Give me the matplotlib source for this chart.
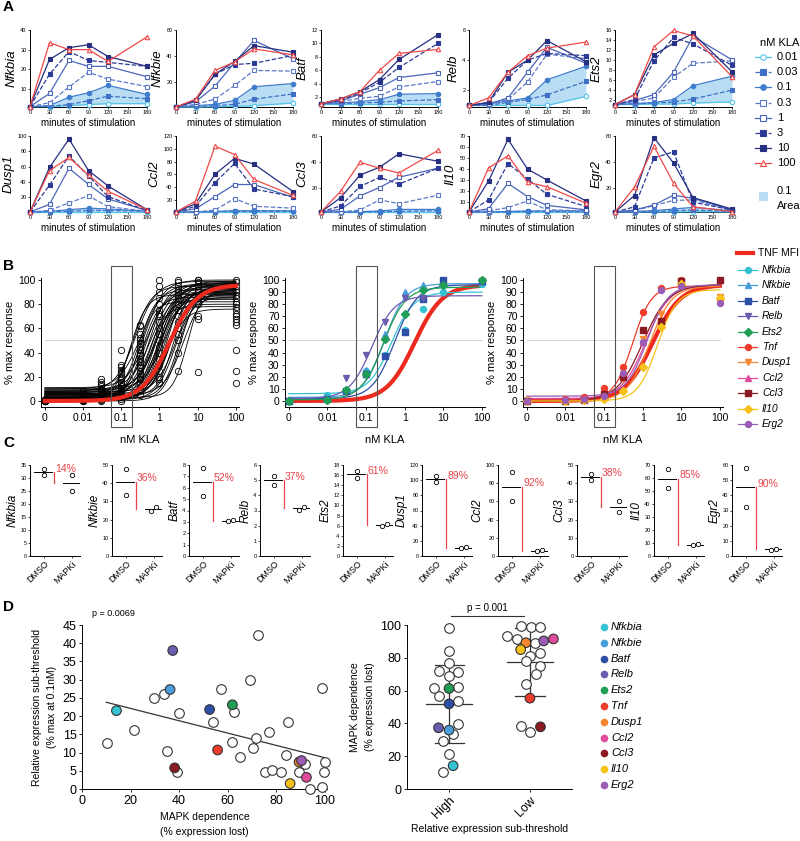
"""Multi-panel KLA dose / MAPK dependence figure (A-D)."""

import numpy as np
import matplotlib
matplotlib.use("Agg")
import matplotlib.pyplot as plt
from matplotlib.patches import Rectangle
from matplotlib.lines import Line2D
from matplotlib.ticker import NullLocator

plt.rcParams["font.family"] = ["Liberation Sans", "DejaVu Sans"]
plt.rcParams["axes.linewidth"] = 0.7

W, H = 800, 841

# ---------------- panel A: time courses ----------------
times = [0, 30, 60, 90, 120, 180]
doses = ["0.01", "0.03", "0.1", "0.3", "1", "3", "10", "100"]
genes_a = ["Nfkbia", "Nfkbie", "Batf", "Relb", "Ets2",
           "Dusp1", "Ccl2", "Ccl3", "Il10", "Egr2"]

nfkbia = [[1, 1, 1.5, 2, 2.5, 2.5], [1, 1.2, 2, 4, 6.3, 5], [1, 1.5, 5.8, 8, 11.8, 7.2],
          [1, 3, 11, 18.5, 15, 11.2], [1, 7.7, 24.5, 21.5, 21.5, 16.2],
          [1, 17.5, 29, 24.5, 23.5, 21.5], [1, 25, 31, 32.5, 26.5, 21.5],
          [1, 33.5, 30, 30, 24, 36.5]]
nfkbie = [[1, 1, 1.2, 1.5, 2, 4], [1, 1.5, 2, 3, 7, 11], [1, 2, 3, 6, 16.5, 19],
          [1, 3, 7, 17.5, 29, 28.5], [1, 5, 17, 35, 52, 38],
          [1, 6, 26, 33.5, 34.5, 40.5], [1, 6, 26, 36, 48, 43],
          [1, 7, 29, 35.5, 45.5, 41]]
batf = [[1, 1, 1, 1, 1, 1], [1, 1, 1.1, 1.2, 1.4, 1.6], [1, 1.1, 1.3, 1.6, 2.4, 2.5],
        [1, 1.3, 1.8, 2.1, 3.5, 4.3], [1, 1.4, 2.4, 3.4, 4.9, 5.6],
        [1, 1.5, 2.6, 4.2, 6.4, 10], [1, 1.7, 2.8, 4.6, 7.6, 11.3],
        [1, 1.7, 2.8, 6.0, 8.5, 9.1]]
relb = [[1, 1, 1, 1, 1, 1.6], [1, 1, 1.2, 1.4, 1.7, 2.6], [1, 1.1, 1.3, 1.5, 2.7, 3.6],
        [1, 1.1, 1.4, 2.55, 4.4, 4.1], [1, 1.1, 1.5, 3.2, 4.85, 3.8],
        [1, 1.2, 2.8, 4.0, 4.45, 4.3], [1, 1.2, 3.2, 4.0, 5.3, 3.9],
        [1, 1.5, 3.2, 4.3, 4.8, 5.2]]
ets2 = [[1, 1, 1.1, 1.1, 1.3, 1.5], [1, 1.1, 1.3, 1.5, 2.1, 3.9], [1, 1.2, 1.4, 2, 4.8, 6.7],
        [1, 1.6, 2.3, 6.5, 9.3, 9.8], [1, 1.8, 3, 7.5, 14.7, 10],
        [1, 2, 9.8, 14.5, 13.2, 8.9], [1, 3, 11, 13.3, 15.3, 7.6],
        [1, 3, 12.6, 15.9, 14.8, 6.6]]
dusp1 = [[1, 1, 1, 1, 1, 1], [1, 1.5, 2, 3, 3, 2], [1, 2, 4, 6, 5, 2],
         [1, 3, 13, 22, 8, 2], [1, 11, 58, 37, 18, 3],
         [1, 36, 74, 48, 21, 3], [1, 59, 96, 55, 35, 4],
         [1, 55, 72, 49, 28, 4]]
ccl2 = [[1, 1, 1, 1, 1, 1], [1, 1, 1.5, 2, 2, 2], [1, 1, 2, 3, 3, 3],
        [1, 1, 4, 22, 10, 7], [1, 6, 25, 44, 44, 24],
        [1, 10, 47, 77, 37, 25], [1, 14, 60, 85, 76, 33],
        [1, 18, 104, 91, 52, 27]]
ccl3 = [[1, 1, 1, 1, 1, 1], [1, 1, 1, 1.2, 1.5, 2], [1, 1, 1.3, 1.8, 3, 3],
        [1, 1, 2.6, 10.4, 7.5, 14], [1, 3, 13.5, 20, 28, 35],
        [1, 5.7, 20.8, 27.9, 22.7, 35], [1, 12, 29.7, 35.7, 46.2, 40.4],
        [1, 17, 39.6, 35, 31.3, 48.8]]
il10 = [[1, 1, 1, 1, 1, 1], [1, 1, 1, 1.5, 1.5, 1], [1, 1, 1.5, 2, 2, 2],
        [1, 2, 5, 11, 3, 2], [1, 4, 27, 15, 7, 3],
        [1, 12, 45, 31, 17, 6], [1, 29, 67, 40, 30, 11],
        [1, 41, 52, 28, 24, 9]]
egr2 = [[1, 1, 1, 1, 1.2, 1], [1, 1, 1.5, 2, 2.5, 1.5], [1, 1.5, 2, 3.3, 4.6, 2],
        [1, 2, 6, 10, 10.4, 2.3], [1, 2.5, 6.5, 14, 11.7, 2.6],
        [1, 5, 43, 47.7, 8.6, 2.6], [1, 13.8, 58.7, 39, 12.2, 3.3],
        [1, 20.3, 52, 23.4, 5, 1.3]]
a_data = [nfkbia, nfkbie, batf, relb, ets2, dusp1, ccl2, ccl3, il10, egr2]
a_ytop = [40, 60, 12, 6, 16, 100, 120, 60, 70, 60]
a_ystep = [10, 20, 2, 2, 2, 20, 20, 20, 10, 20]
a_ybot = [0.8, 1, 0.5, 0.9, 0.5, 1, 1, 1, 1, 1]

# ---------------- panel B: dose responses ----------------
b_conc = [0, 0.01, 0.03, 0.1, 0.3, 1, 3, 10, 100]

b1_pts = [
    [0, 0, 0, 0, 0, 1, 2],
    [0, 0, 1, 1, 2, 2, 3, 3, 4, 5, 6, 8],
    [0, 1, 2, 3, 3, 4, 5, 5, 6, 7, 8, 9, 10, 12, 14, 16, 18],
    [0, 2, 3, 4, 5, 6, 7, 8, 10, 11, 12, 14, 16, 18, 20, 22, 24, 26, 28, 30, 42],
    [5, 10, 14, 18, 20, 22, 25, 28, 30, 32, 35, 38, 40, 42, 45, 48, 50, 52, 55, 62, 63],
    [15, 18, 20, 25, 30, 35, 40, 45, 50, 55, 60, 65, 70, 72, 75, 80, 85, 90, 95, 100],
    [25, 40, 50, 55, 60, 65, 70, 75, 80, 85, 88, 90, 92, 95, 98, 100],
    [24, 68, 70, 80, 85, 88, 90, 92, 95, 98, 100, 100],
    [15, 25, 42, 63, 65, 68, 70, 72, 75, 78, 80, 82, 85, 88, 90, 92, 95, 98, 100],
]
b1_ec50 = [0.17, 0.2, 0.24, 0.28, 0.3, 0.33, 0.36, 0.4, 0.44, 0.48, 0.52, 0.56, 0.6,
           0.65, 0.7, 0.75, 0.8, 0.85, 0.9, 0.95, 1.0, 1.05, 1.1, 1.2, 1.3, 1.4, 1.5,
           1.6, 1.75, 1.9, 2.1, 2.3, 2.5, 2.8, 3.1, 3.6, 4.2, 5.5]
b1_bottom = [0, 3, 8, 1, 5, 10, 2, 7, 4, 11, 0, 6, 3, 9, 1, 5, 8, 2, 10, 4, 0, 7, 3,
             6, 1, 9, 2, 5, 0, 8, 3, 4, 1, 6, 2, 0, 5, 3]
b1_top = [88, 95, 99, 82, 92, 97, 86, 100, 90, 94, 78, 96, 89, 98, 84, 93, 91, 87, 95,
          80, 97, 92, 85, 99, 90, 94, 76, 96, 88, 93, 98, 91, 86, 95, 89, 97, 92, 96]
b1_hill = [2.0, 1.8, 1.6, 2.2, 1.9, 1.5, 2.0, 1.7, 1.8, 1.6, 2.1, 1.9, 1.7, 1.5, 2.0,
           1.8, 1.6, 1.9, 1.7, 2.2, 1.8, 1.6, 2.0, 1.7, 1.9, 1.5, 1.8, 2.0, 1.6, 1.9,
           1.7, 2.1, 1.8, 1.6, 2.0, 1.9, 1.7, 2.2]
tnf_mfi_fit = [0, 96, 1.8, 1.2]  # bottom, top, ec50, hill

b2_genes = ["Nfkbia", "Nfkbie", "Batf", "Relb", "Ets2"]
b2_pts = [[0, 5, 9, 25, 38, 59, 76, 90, 97],
          [0, 3, 9, 26, 55, 90, 96, 97, 99],
          [0, 2, 8, 22, 37, 57, 84, 100, 99],
          [0, 1, 19, 38, 65, 85, 85, 95, 98],
          [0, 1, 9, 22, 51, 72, 92, 96, 100]]
b2_fit = [[6, 90, 0.45, 1.5], [3, 97, 0.3, 1.6], [2, 96, 0.55, 1.5],
          [2, 87, 0.14, 1.5], [1, 94, 0.28, 1.5]]

b3_genes = ["Tnf", "Dusp1", "Ccl2", "Ccl3", "Il10", "Erg2"]
b3_pts = [[1, 2, 3, 10.5, 28, 73.5, 93, 100, 84],
          [0, 0, 1, 3, 18, 51, 72, 98, 86],
          [0, 1, 2, 5, 23, 49, 66, 96, 100],
          [0, 0, 1, 6, 20, 59, 66, 99, 100],
          [0, 0, 1, 2, 8, 28, 61, 97, 85],
          [0, 1, 2, 4, 23, 49, 92, 95, 81]]
b3_fit = [[1, 95, 0.55, 1.8], [0, 95, 1.5, 1.5], [2, 96, 1.2, 1.4],
          [0, 96, 1.0, 1.3], [0, 92, 2.4, 1.7], [4, 96, 1.3, 1.6]]

# ---------------- panel C: DMSO vs MAPKi ----------------
c_genes = ["Nfkbia", "Nfkbie", "Batf", "Relb", "Ets2",
           "Dusp1", "Ccl2", "Ccl3", "Il10", "Egr2"]
c_dmso = [[33.5, 31], [48, 33.5], [7.7, 5.3], [5.3, 4.7], [16.8, 15.5],
          [105, 97], [92, 60], [42, 45], [67, 52], [58, 32.5]]
c_mapki = [[31, 25], [25, 27], [3.05, 3.15], [3.05, 3.25], [6.0, 6.4],
           [10.5, 11.5], [5.5, 6.5], [30, 24], [8.5, 9], [4, 4.7]]
c_pct = ["14%", "36%", "52%", "37%", "61%", "89%", "92%", "38%", "85%", "90%"]
c_ytop = [35, 50, 8, 6, 18, 120, 100, 50, 70, 60]
c_ystep = [5, 10, 1, 1, 2, 20, 20, 10, 10, 10]

# ---------------- panel D ----------------
d_open_x = [10.3, 21.5, 29.5, 34, 35, 40.1, 39, 54, 57.4, 61.8, 62.7, 65, 69.2, 70.3,
            71.9, 72.6, 75.6, 77.1, 78.5, 81.9, 84, 84.9, 89.3, 91.8, 93.8, 98.8,
            99, 99.6, 100]
d_open_y = [12.7, 16.2, 24.9, 26, 10.3, 20.9, 4.8, 18.3, 27.5, 13.0, 21.2, 8.8, 29.8,
            11.2, 13.9, 42.2, 4.8, 15.7, 5.3, 4.7, 9.4, 18.5, 4.8, 6.8, 0, 27.8,
            0.5, 4.7, 7.4]
d_genes = ["Nfkbia", "Nfkbie", "Batf", "Relb", "Ets2", "Tnf", "Dusp1", "Ccl2",
           "Ccl3", "Il10", "Erg2"]
d_gene_x = [14.2, 36.3, 52.6, 37.4, 62, 55.9, 89.5, 92.5, 38.2, 85.8, 90.5]
d_gene_y = [21.5, 27.3, 21.8, 38, 23.1, 10.7, 7.4, 3.2, 5.8, 1.5, 7.8]
d_reg_x = [10, 100]
d_reg_y = [23.8, 8.6]

high_open = [98.4, 84.4, 76.7, 72.2, 71.4, 68.6, 61.5, 62.3, 56.8, 53.8, 39.8,
             33.7, 29.4, 21.3, 10.1]
high_open_dx = [0, 0, 0, -0.12, 0.115, 0, -0.19, 0.115, -0.12, 0.115, 0.115,
                0.05, -0.07, 0, -0.07]
low_open = [99.6, 98.6, 99, 93.1, 91.3, 88.8, 83.2, 81.3, 77.9, 75, 70, 64.3,
            38.7, 34.7]
low_open_dx = [-0.115, 0.01, 0.13, -0.28, -0.16, 0.06, 0.13, 0, -0.05, 0.13,
               0.07, -0.05, -0.115, 0]
high_genes = ["Ets2", "Batf", "Relb", "Nfkbie", "Nfkbia"]
high_gene_y = [61.3, 51.9, 37.3, 35.9, 14.2]
high_gene_dx = [0, 0, -0.13, 0, 0.05]
low_genes = ["Dusp1", "Erg2", "Ccl2", "Il10", "Tnf", "Ccl3"]
low_gene_y = [89.2, 90.3, 91.5, 85, 55.4, 37.9]
low_gene_dx = [-0.05, 0.17, 0.29, -0.115, 0, 0.13]

gene_colors = {"Nfkbia": "#35c3d3", "Nfkbie": "#4a9ddb", "Batf": "#2e4fa8",
               "Relb": "#6c5cb0", "Ets2": "#1f9e55", "Tnf": "#ee3b2c",
               "Dusp1": "#f5862f", "Ccl2": "#e24a9c", "Ccl3": "#8c1a22",
               "Il10": "#f6c21a", "Erg2": "#9a5cb4"}
gene_markers = {"Nfkbia": "o", "Nfkbie": "^", "Batf": "s", "Relb": "v", "Ets2": "D",
                "Tnf": "o", "Dusp1": "v", "Ccl2": "^", "Ccl3": "s", "Il10": "D",
                "Erg2": "o"}

dose_styles = [("#52c3ea", "o", "-", False), ("#3f70c6", "s", "--", True),
               ("#3f7ccd", "o", "-", True), ("#5b79c8", "s", "--", False),
               ("#4b66ba", "s", "-", False), ("#2c3b98", "s", "--", True),
               ("#262f80", "s", "-", True), ("#f04848", "^", "-", False)]
RED = "#e8434a"


def px_axes(fig, left, top, right, bottom):
    return fig.add_axes([left / W, 1 - bottom / H, (right - left) / W, (bottom - top) / H])


def clean(ax):
    ax.spines["top"].set_visible(False)
    ax.spines["right"].set_visible(False)


def hill(x, bottom, top, ec50, h):
    return bottom + (top - bottom) / (1 + (ec50 / x) ** h)


fig = plt.figure(figsize=(W / 100, H / 100), dpi=100)
ov = fig.add_axes([0, 0, 1, 1], zorder=10)
ov.set_xlim(0, W)
ov.set_ylim(H, 0)
ov.axis("off")
ov.patch.set_alpha(0)

for lab, y in [("A", 7), ("B", 266), ("C", 443), ("D", 607)]:
    ov.text(3, y, lab, fontsize=11, fontweight="bold", va="center", ha="left")

# ---- A ----
a_lefts = [30, 176, 321, 469, 615]
a_rows = [(30, 107), (136, 212)]
for gi, gene in enumerate(genes_a):
    row, col = divmod(gi, 5)
    top, bot = a_rows[row]
    ax = px_axes(fig, a_lefts[col], top, a_lefts[col] + 117, bot)
    clean(ax)
    series = a_data[gi]
    ax.fill_between(times, series[0], series[2], color="#b9def4", lw=0, zorder=1)
    for di in range(len(doses)):
        color, mk, ls, filled = dose_styles[di]
        ax.plot(times, series[di], color=color, ls=ls, lw=0.9, marker=mk, ms=3.2,
                mfc=color if filled else "white", mec=color, mew=0.8,
                clip_on=False, zorder=3 + di * 0.1)
    ax.set_xlim(0, 180)
    ax.set_ylim(a_ybot[gi], a_ytop[gi])
    ax.set_xticks([0, 30, 60, 90, 120, 150, 180])
    ax.set_yticks(np.arange(a_ystep[gi], a_ytop[gi] + 0.1, a_ystep[gi]))
    ax.tick_params(labelsize=4, length=1.5, width=0.5, pad=1)
    ax.set_ylabel(gene, fontsize=9.5, style="italic", labelpad=2)
    ax.set_xlabel("minutes of stimulation", fontsize=7, labelpad=2)

ov.text(760, 43, "nM KLA", fontsize=8, va="center")
for di, d in enumerate(doses):
    color, mk, ls, filled = dose_styles[di]
    y = 57 + 15.2 * di
    ov.add_line(Line2D([755, 771], [y, y], color=color, ls=ls, lw=0.9, marker=None))
    ov.plot([763], [y], marker=mk, ms=4, color=color, mfc=color if filled else "white",
            mew=0.8)
    ov.text(777, y, d, fontsize=8, va="center")
ov.add_patch(Rectangle((759, 192), 9, 9, color="#b9def4", lw=0))
ov.text(777, 191, "0.1", fontsize=8, va="center")
ov.text(777, 206, "Area", fontsize=8, va="center")

# ---- B ----
b_xpos = [0.001 if c == 0 else c for c in b_conc]
xs = np.logspace(-3, 2, 300)
b_frames = [(41, 239), (285, 485), (523, 723)]
b_axes = []
for k, (l, r) in enumerate(b_frames):
    ax = px_axes(fig, l, 277.6, r, 407)
    clean(ax)
    ax.set_xscale("log")
    ax.set_xlim(10 ** -3.1, 10 ** 2.08)
    ax.set_ylim(-5, 102)
    ax.set_xticks([1e-3, 1e-2, 1e-1, 1, 10, 100])
    ax.set_xticklabels(["0", "0.01", "0.1", "1", "10", "100"])
    ax.xaxis.set_minor_locator(NullLocator())
    ax.set_yticks(np.arange(0, 101, 20 if k == 0 else 10))
    ax.tick_params(labelsize=7.5, length=2.5, width=0.6, pad=1.5)
    ax.plot([1e-3, 100], [50, 50], color="#cfcfcf", lw=0.6, zorder=0)
    ax.add_patch(Rectangle((10 ** -1.27, -21.5), 10 ** -0.72 - 10 ** -1.27, 133.5,
                           fill=False, ec="#555555", lw=0.8, clip_on=False, zorder=6))
    ax.set_ylabel("% max response", fontsize=8, labelpad=2)
    ax.set_xlabel("nM KLA", fontsize=8, labelpad=9)
    b_axes.append(ax)

ax = b_axes[0]
for i in range(len(b1_ec50)):
    ax.plot(xs, hill(xs, b1_bottom[i], b1_top[i], b1_ec50[i], b1_hill[i]),
            color="black", lw=0.6, zorder=2)
for ci, vals in enumerate(b1_pts):
    ax.plot([b_xpos[ci]] * len(vals), vals, ls="none", marker="o", ms=4.6,
            mfc="none", mec="black", mew=0.6, clip_on=False, zorder=3)
ax.plot(xs, hill(xs, *tnf_mfi_fit), color="#ee2a1e", lw=3, zorder=4)

for ax, genes, pts, fits in [(b_axes[1], b2_genes, b2_pts, b2_fit),
                             (b_axes[2], b3_genes, b3_pts, b3_fit)]:
    ax.plot(xs, hill(xs, *tnf_mfi_fit), color="#ee2a1e", lw=3, zorder=2)
    for g, p, f in zip(genes, pts, fits):
        c = gene_colors[g]
        ax.plot(xs, hill(xs, *f), color=c, lw=0.9, zorder=3)
        ax.plot(b_xpos, p, ls="none", marker=gene_markers[g], ms=4.3, color=c,
                clip_on=False, zorder=4)

ov.add_line(Line2D([737, 753], [253, 253], color="#ee2a1e", lw=3))
ov.text(758, 253, "TNF MFI", fontsize=7.5, va="center")
for i, g in enumerate(b2_genes + b3_genes):
    y = 270 + 15.4 * i
    c = gene_colors[g]
    ov.add_line(Line2D([738, 757], [y, y], color=c, lw=0.9))
    ov.plot([747.5], [y], marker=gene_markers[g], ms=4.3, color=c)
    ov.text(762, y, g, fontsize=7.5, style="italic", va="center")

# ---- C ----
c_lefts = [30, 112, 189, 260, 343, 422, 498, 577, 654, 732]
for i, g in enumerate(c_genes):
    ax = px_axes(fig, c_lefts[i], 465, c_lefts[i] + 50, 556)
    clean(ax)
    top = c_ytop[i]
    for xc, vals in [(0, c_dmso[i]), (1, c_mapki[i])]:
        close = abs(vals[0] - vals[1]) < 0.06 * top
        dx = [-0.1, 0.1] if close else [0, 0]
        ax.scatter([xc + dx[0], xc + dx[1]], vals, s=10, facecolors="white",
                   edgecolors="black", linewidths=0.6, zorder=3, clip_on=False)
    m0 = np.mean(c_dmso[i])
    m1 = np.mean(c_mapki[i])
    ax.plot([-0.35, 0.3], [m0, m0], color="black", lw=0.7)
    ax.plot([0.68, 1.3], [m1, m1], color="black", lw=0.7)
    ax.plot([0.35, 0.35], [m0, m1], color=RED, lw=0.9)
    ax.text(0.4, m0 + 0.04 * top, c_pct[i], color=RED, fontsize=7.5, va="center")
    ax.set_xlim(-0.5, 1.3)
    ax.set_ylim(0, top)
    ax.set_yticks(np.arange(0, top + 0.1, c_ystep[i]))
    ax.set_xticks([0, 1])
    ax.set_xticklabels(["DMSO", "MAPKi"], rotation=45, ha="right",
                       rotation_mode="anchor", fontsize=6.5)
    ax.tick_params(axis="y", labelsize=4, length=1.5, width=0.5, pad=1)
    ax.tick_params(axis="x", length=1.5, width=0.5, pad=1)
    ax.set_ylabel(g, fontsize=8.5, style="italic", labelpad=1)

# ---- D left ----
ax = px_axes(fig, 82, 625, 327, 789)
clean(ax)
ax.plot(d_reg_x, d_reg_y, color="#333333", lw=0.9, zorder=2)
ax.scatter(d_open_x, d_open_y, s=48, facecolors="white", edgecolors="#333333",
           linewidths=0.8, zorder=3, clip_on=False)
ax.scatter(d_gene_x, d_gene_y, s=48, c=[gene_colors[g] for g in d_genes],
           edgecolors="#333333", linewidths=0.8, zorder=4, clip_on=False)
ax.set_xlim(0, 101)
ax.set_ylim(0, 45)
ax.set_xticks(np.arange(0, 101, 20))
ax.set_yticks(np.arange(0, 46, 5))
ax.tick_params(labelsize=9, length=2.5, width=0.6, pad=1.5)
ax.set_xlabel("MAPK dependence\n(% expression lost)", fontsize=7.5, linespacing=1.6)
ax.set_ylabel("Relative expression sub-threshold\n(% max at 0.1nM)", fontsize=7.5,
              linespacing=1.6)
ax.text(4, 47, "p = 0.0069", fontsize=6.5, va="bottom")

# ---- D right ----
ax = px_axes(fig, 407, 625, 572, 789)
clean(ax)
for xc, ov_y, ov_dx, gn, gy, gdx in [(0, high_open, high_open_dx, high_genes, high_gene_y, high_gene_dx),
                                     (1, low_open, low_open_dx, low_genes, low_gene_y, low_gene_dx)]:
    allv = np.array(ov_y + gy)
    m, sd = allv.mean(), allv.std(ddof=1)
    ax.plot([xc - 0.28, xc + 0.28], [m, m], color="#333333", lw=0.9, zorder=2)
    ax.plot([xc - 0.18, xc + 0.18], [m - sd, m - sd], color="#333333", lw=0.9, zorder=2)
    ax.plot([xc - 0.18, xc + 0.18], [m + sd, m + sd], color="#333333", lw=0.9, zorder=2)
    ax.plot([xc, xc], [m - sd, m + sd], color="#333333", lw=0.9, zorder=2)
    ax.scatter([xc + d for d in ov_dx], ov_y, s=48, facecolors="white",
               edgecolors="#333333", linewidths=0.8, zorder=3, clip_on=False)
    ax.scatter([xc + d for d in gdx], gy, s=48, c=[gene_colors[g] for g in gn],
               edgecolors="#333333", linewidths=0.8, zorder=4, clip_on=False)
ax.set_xlim(-0.52, 1.52)
ax.set_ylim(0, 100)
ax.set_xticks([0, 1])
ax.set_xticklabels(["High", "Low"], rotation=45, ha="right", rotation_mode="anchor",
                   fontsize=8)
ax.set_yticks(np.arange(0, 101, 20))
ax.tick_params(labelsize=9, length=2.5, width=0.6, pad=1.5)
ax.set_ylabel("MAPK dependence\n(% expression lost)", fontsize=7.5, linespacing=1.6)
ax.set_xlabel("Relative expression sub-threshold", fontsize=7.5, labelpad=2)
ax.plot([0.02, 0.93], [105.5, 105.5], color="#333333", lw=0.8, clip_on=False)
ax.text(0.475, 107.5, "p = 0.001", fontsize=7, ha="center", va="bottom")

for i, g in enumerate(d_genes):
    y = 627 + 15.8 * i
    ov.plot([604], [y], marker="o", ms=4.5, color=gene_colors[g])
    ov.text(611, y, g, fontsize=8, style="italic", va="center")

fig.savefig("out.png", dpi=100)
plt.close(fig)
